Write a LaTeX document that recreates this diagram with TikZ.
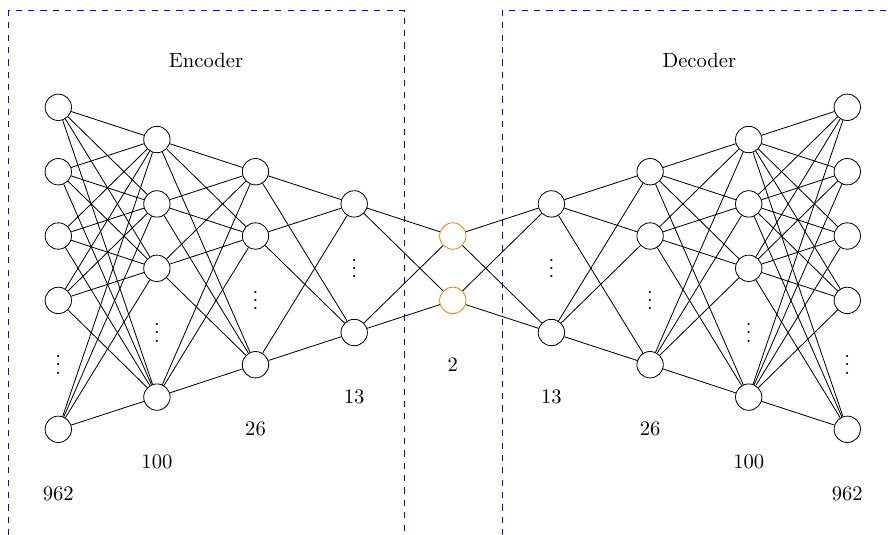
\documentclass[tikz,border=0pt]{standalone}
\begin{document}
\begin{tikzpicture}[x=0.01706cm, y=-0.01706cm,
  neuron/.style={circle, draw=black, fill=white, minimum size=0.45cm, inner sep=0pt},
  latent/.style={neuron, draw=orange},
  vdotsnode/.style={inner sep=0pt, yshift=3pt},
  boxline/.style={draw=blue, dashed, line width=0.5pt},
  edge/.style={draw=black}]
\useasboundingbox (0,0) rectangle (888,534);
% boxes
\coordinate (eb1) at (8.7,560);
\coordinate (et1) at (8.7,10.7);
\coordinate (et2) at (404.2,10.7);
\coordinate (eb2) at (404.2,560);
\coordinate (db1) at (502.3,560);
\coordinate (dt1) at (502.3,10.7);
\coordinate (dt2) at (900,10.7);
\node (enc) at (206,60) {Encoder};
\node (dec) at (699.3,60) {Decoder};
% nodes
\foreach \y [count=\j] in {107.3,171.7,236,300.4,429.3} \node[neuron] (A\j) at (58.3,\y) {};
\foreach \y [count=\j] in {139.5,203.9,268.3,397.1} \node[neuron] (B\j) at (156.9,\y) {};
\foreach \y [count=\j] in {171.7,236,364.7} \node[neuron] (C\j) at (255.5,\y) {};
\foreach \y [count=\j] in {203.9,332.5} \node[neuron] (D\j) at (354.2,\y) {};
\foreach \y [count=\j] in {236,300.4} \node[latent] (E\j) at (452.8,\y) {};
\foreach \y [count=\j] in {203.9,332.5} \node[neuron] (F\j) at (551.4,\y) {};
\foreach \y [count=\j] in {171.7,236,364.7} \node[neuron] (G\j) at (650.1,\y) {};
\foreach \y [count=\j] in {139.5,203.9,268.3,397.1} \node[neuron] (H\j) at (748.7,\y) {};
\foreach \y [count=\j] in {107.3,171.7,236,300.4,429.3} \node[neuron] (I\j) at (847.3,\y) {};
% edges
\foreach \a in {1,...,5} \foreach \b in {1,...,4} \draw[edge] (A\a) -- (B\b);
\foreach \a in {1,...,4} \foreach \b in {1,...,3} \draw[edge] (B\a) -- (C\b);
\foreach \a in {1,...,3} \foreach \b in {1,2} \draw[edge] (C\a) -- (D\b);
\foreach \a in {1,2} \foreach \b in {1,2} \draw[edge] (D\a) -- (E\b);
\foreach \a in {1,2} \foreach \b in {1,2} \draw[edge] (E\a) -- (F\b);
\foreach \a in {1,2} \foreach \b in {1,...,3} \draw[edge] (F\a) -- (G\b);
\foreach \a in {1,...,3} \foreach \b in {1,...,4} \draw[edge] (G\a) -- (H\b);
\foreach \a in {1,...,4} \foreach \b in {1,...,5} \draw[edge] (H\a) -- (I\b);
% box lines
\draw[boxline] (eb1) -- (et1) -- (et2) -- (eb2);
\draw[boxline] (db1) -- (dt1) -- (dt2);
% dots
\node[vdotsnode] (dA) at (58.3,364.7) {$\vdots$};
\node[vdotsnode] (dB) at (156.9,332.7) {$\vdots$};
\node[vdotsnode] (dC) at (255.5,300.5) {$\vdots$};
\node[vdotsnode] (dD) at (354.2,268.3) {$\vdots$};
\node[vdotsnode] (dF) at (551.4,268.3) {$\vdots$};
\node[vdotsnode] (dG) at (650.1,300.5) {$\vdots$};
\node[vdotsnode] (dH) at (748.7,332.7) {$\vdots$};
\node[vdotsnode] (dI) at (847.3,364.7) {$\vdots$};
% labels
\node (lA) at (58.3,493.7) {962};
\node (lB) at (156.9,461.5) {100};
\node (lC) at (255.5,429.1) {26};
\node (lD) at (354.2,396.9) {13};
\node (lE) at (452.8,364.8) {2};
\node (lF) at (551.4,396.9) {13};
\node (lG) at (650.1,429.1) {26};
\node (lH) at (748.7,461.5) {100};
\node (lI) at (847.3,493.7) {962};
\end{tikzpicture}
\end{document}
